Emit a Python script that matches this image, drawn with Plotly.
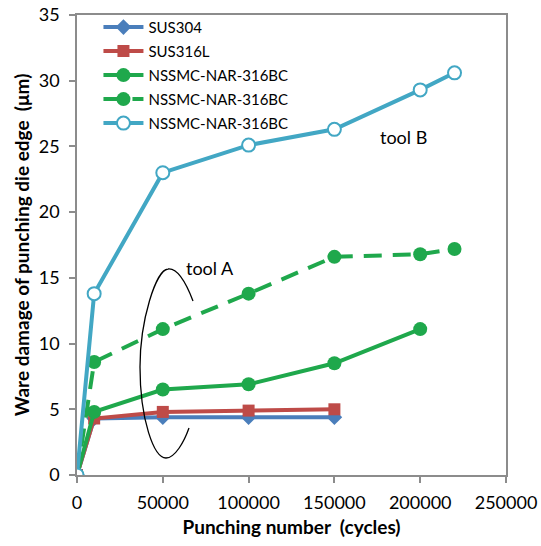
import plotly.graph_objects as go

# ---- data ----
x_sus304 = [0, 10000, 50000, 100000, 150000]
y_sus304 = [0, 4.3, 4.4, 4.4, 4.4]

x_sus316l = [0, 10000, 50000, 100000, 150000]
y_sus316l = [0, 4.3, 4.8, 4.9, 5.0]

x_nar_a = [0, 10000, 50000, 100000, 150000, 200000]
y_nar_a = [0, 4.8, 6.5, 6.9, 8.5, 11.1]

x_nar_dash = [0, 10000, 50000, 100000, 150000, 200000, 220000]
y_nar_dash = [0, 8.6, 11.1, 13.8, 16.6, 16.8, 17.2]

x_nar_b = [0, 10000, 50000, 100000, 150000, 200000, 220000]
y_nar_b = [0, 13.8, 23.0, 25.1, 26.3, 29.3, 30.6]

names = ["SUS304", "SUS316L", "NSSMC-NAR-316BC", "NSSMC-NAR-316BC", "NSSMC-NAR-316BC"]
x_ticks = [0, 50000, 100000, 150000, 200000, 250000]
y_ticks = [0, 5, 10, 15, 20, 25, 30, 35]

FONT = "Lato"
BLUE = "#4A7EBB"
RED = "#BE4B48"
GREEN = "#1FA84C"
CYAN = "#42A7C4"

fig = go.Figure()
fig.add_trace(go.Scatter(x=x_sus304, y=y_sus304, name=names[0], mode="lines+markers",
                         legendgroup="g0",
                         line=dict(color=BLUE, width=4),
                         marker=dict(symbol="diamond", size=12, color=BLUE)))
fig.add_trace(go.Scatter(x=x_sus316l, y=y_sus316l, name=names[1], mode="lines+markers",
                         legendgroup="g1",
                         line=dict(color=RED, width=4),
                         marker=dict(symbol="square", size=12, color=RED)))
fig.add_trace(go.Scatter(x=x_nar_a, y=y_nar_a, name=names[2], mode="lines+markers",
                         legendgroup="g2",
                         line=dict(color=GREEN, width=4),
                         marker=dict(symbol="circle", size=14, color=GREEN)))
fig.add_trace(go.Scatter(x=x_nar_dash, y=y_nar_dash, name=names[3], mode="lines+markers",
                         legendgroup="g3",
                         line=dict(color=GREEN, width=4, dash="18px,11px"),
                         marker=dict(symbol="circle", size=14, color=GREEN)))
fig.add_trace(go.Scatter(x=x_nar_b, y=y_nar_b, name=names[4], mode="lines+markers",
                         legendgroup="g4",
                         line=dict(color=CYAN, width=4),
                         marker=dict(symbol="circle", size=13, color="white",
                                     line=dict(color=CYAN, width=2))))

# decorative bracket around tool A curves (paper coordinates)
def px_to_paper(px, py):
    return ((px - 77) / 429.0, (475 - py) / 460.0)

arc_px = [(193, 301), (185, 280), (176, 268), (168, 269),
          (156, 270), (140, 320), (140, 367),
          (140, 420), (154, 458), (166, 458),
          (175, 458), (184, 442), (189, 428)]
pts = [px_to_paper(*p) for p in arc_px]
path = "M {},{}".format(*pts[0])
for i in range(1, len(pts), 3):
    path += " C {},{} {},{} {},{}".format(*pts[i], *pts[i + 1], *pts[i + 2])
fig.add_shape(type="path", path=path, xref="paper", yref="paper",
              line=dict(color="black", width=1.3))

fig.add_annotation(x=77500, y=15.75, text="tool A", showarrow=False,
                   font=dict(family=FONT, size=18, color="black"))
fig.add_annotation(x=190000, y=25.7, text="tool B", showarrow=False,
                   font=dict(family=FONT, size=18, color="black"))

axis_common = dict(showgrid=False, zeroline=False, showline=True, linecolor="#8C8C8C",
                   linewidth=1.5, mirror=True, ticks="outside", ticklen=6,
                   tickcolor="#8C8C8C", tickwidth=1.5, automargin=False,
                   tickfont=dict(family=FONT, size=18, color="black"))

fig.update_layout(
    width=541, height=546,
    margin=dict(l=77, r=35, t=15, b=71, autoexpand=False),
    plot_bgcolor="white", paper_bgcolor="white",
    font=dict(family=FONT, color="black"),
    xaxis=dict(range=[0, 250000], tickvals=x_ticks, ticktext=[str(v) for v in x_ticks],
               ticklabelstandoff=5,
               title=dict(text="<b>Punching number  (cycles)</b>", font=dict(family=FONT, size=19),
                          standoff=8),
               **axis_common),
    yaxis=dict(range=[0, 35], tickvals=y_ticks, ticktext=[str(v) for v in y_ticks],
               ticklabelstandoff=6,
               title=dict(text="<b>Ware damage of punching die edge  (μm)</b>",
                          font=dict(family=FONT, size=19), standoff=4),
               **axis_common),
    legend=dict(x=0.05, y=1.009, xanchor="left", yanchor="top", bgcolor="rgba(0,0,0,0)",
                font=dict(family=FONT, size=15, color="black"), tracegroupgap=1.5,
                traceorder="grouped", itemwidth=40),
    showlegend=True,
)

fig.write_html("out.html")
